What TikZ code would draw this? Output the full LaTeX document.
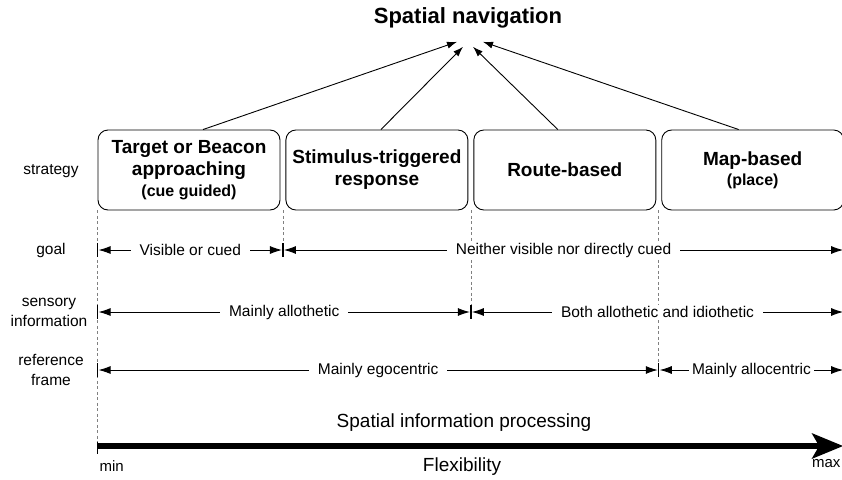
\documentclass[tikz,border=0pt]{standalone}
\usepackage{fontspec}
\setmainfont{Liberation Sans}
\usepackage{tikz}
\usetikzlibrary{positioning,calc,arrows.meta}

\tikzset{
    strat/.style={draw, line width=0.9pt, rounded corners=10pt, minimum width=182pt,
        minimum height=80pt, align=center, font=\fontsize{19}{22}\selectfont\bfseries},
    rowlabel/.style={align=center, font=\fontsize{15.5}{20}\selectfont},
    dim/.style={line width=0.9pt, {Latex[length=12pt,width=8pt]}-{Latex[length=12pt,width=8pt]}},
    dimtext/.style={midway, fill=white, inner xsep=9pt, inner ysep=1pt, font=\fontsize{15.5}{18}\selectfont},
    tick/.style={line width=1.3pt},
    guide/.style={gray, line width=0.6pt, dash pattern=on 3pt off 2.5pt},
    up/.style={line width=0.9pt, -{Latex[length=10pt,width=7pt]}}
}

\begin{document}
\begin{tikzpicture}[x=1pt,y=-1pt]
    \useasboundingbox (0,0) rectangle (842,479);

    \node[font=\fontsize{22}{26}\selectfont\bfseries] (title) at (468,18) {Spatial navigation};

    % Strategies
    \node[strat] (b1) at (189,170) {Target or Beacon\\approaching\\[-1pt]{\fontsize{16}{20}\selectfont (cue guided)}};
    \node[strat, right=5pt of b1] (b2) {Stimulus-triggered\\response};
    \node[strat, right=5pt of b2] (b3) {Route-based};
    \node[strat, right=5pt of b3] (b4) {Map-based\\[-2pt]{\fontsize{16}{20}\selectfont (place)}};

    \draw[up] ([xshift=14pt]b1.north) -- ([xshift=-11pt,yshift=-10pt]title.south);
    \draw[up] ([xshift=4pt]b2.north) -- ([xshift=-5pt,yshift=-15pt]title.south);
    \draw[up] ([xshift=-7pt]b3.north) -- ([xshift=5pt,yshift=-15pt]title.south);
    \draw[up] ([xshift=-14pt]b4.north) -- ([xshift=15pt,yshift=-10pt]title.south);

    % Row labels
    \node[rowlabel] (lstrat) at (51,171) {strategy};
    \node[rowlabel] (lgoal) at (51,250) {goal};
    \node[rowlabel] (lsens) at (49,312) {sensory\\information};
    \node[rowlabel] (lref) at (51,370) {reference\\frame};

    % Divisions
    \coordinate (d0) at (b1.south west);
    \coordinate (d1) at ($(b1.south east)!0.5!(b2.south west)$);
    \coordinate (d2) at ($(b2.south east)!0.5!(b3.south west)$);
    \coordinate (d3) at ($(b3.south east)!0.5!(b4.south west)$);
    \coordinate (d4) at (b4.south east);
    \coordinate (axis) at (0,446);

    \draw[guide] (d0) -- (d0 |- axis);
    \draw[guide] (d1) -- (d1 |- lgoal);
    \draw[guide] (d2) -- (d2 |- lsens);
    \draw[guide] (d3) -- (d3 |- lref);
    \draw[guide] (d4) -- (d4 |- axis);

    % End ticks
    \foreach \d/\r in {d0/lgoal,d1/lgoal,d4/lgoal,d0/lsens,d2/lsens,d4/lsens,d0/lref,d3/lref,d4/lref}
        \draw[tick] ([yshift=7pt]\d |- \r) -- ([yshift=-7pt]\d |- \r);

    % Goal
    \draw[dim] ([xshift=1pt]d0 |- lgoal) -- ([xshift=-1pt]d1 |- lgoal) node[dimtext] {Visible or cued};
    \draw[dim] ([xshift=1pt]d1 |- lgoal) -- ([xshift=-1pt]d4 |- lgoal) node[dimtext] {Neither visible nor directly cued};

    % Sensory information
    \draw[dim] ([xshift=1pt]d0 |- lsens) -- ([xshift=-1pt]d2 |- lsens) node[dimtext] {Mainly allothetic};
    \draw[dim] ([xshift=1pt]d2 |- lsens) -- ([xshift=-1pt]d4 |- lsens) node[dimtext] {Both allothetic and idiothetic};

    % Reference frame
    \draw[dim] ([xshift=1pt]d0 |- lref) -- ([xshift=-1pt]d3 |- lref) node[dimtext] {Mainly egocentric};
    \draw[dim] ([xshift=1pt]d3 |- lref) -- ([xshift=-1pt]d4 |- lref) node[dimtext, inner xsep=3pt] {Mainly allocentric};

    % Processing axis
    \node[font=\fontsize{19}{22}\selectfont] (proc) at (464,423) {Spatial information processing};
    \draw[line width=5.5pt, -{Stealth[length=31pt,width=25pt,inset=7pt]}]
        (d0 |- axis) -- ([xshift=-1pt]d4 |- axis);
    \draw[tick] ([yshift=4pt]d0 |- axis) -- ([yshift=-8pt]d0 |- axis);
    \draw[tick] ([yshift=8pt]d4 |- axis) -- ([yshift=-8pt]d4 |- axis);
    \node[font=\fontsize{15}{18}\selectfont, anchor=west] (mn) at (96,466) {min};
    \node[font=\fontsize{15}{18}\selectfont, anchor=east] (mx) at (844,464) {max};
    \node[font=\fontsize{19}{22}\selectfont] (flex) at (462,467) {Flexibility};
\end{tikzpicture}
\end{document}
